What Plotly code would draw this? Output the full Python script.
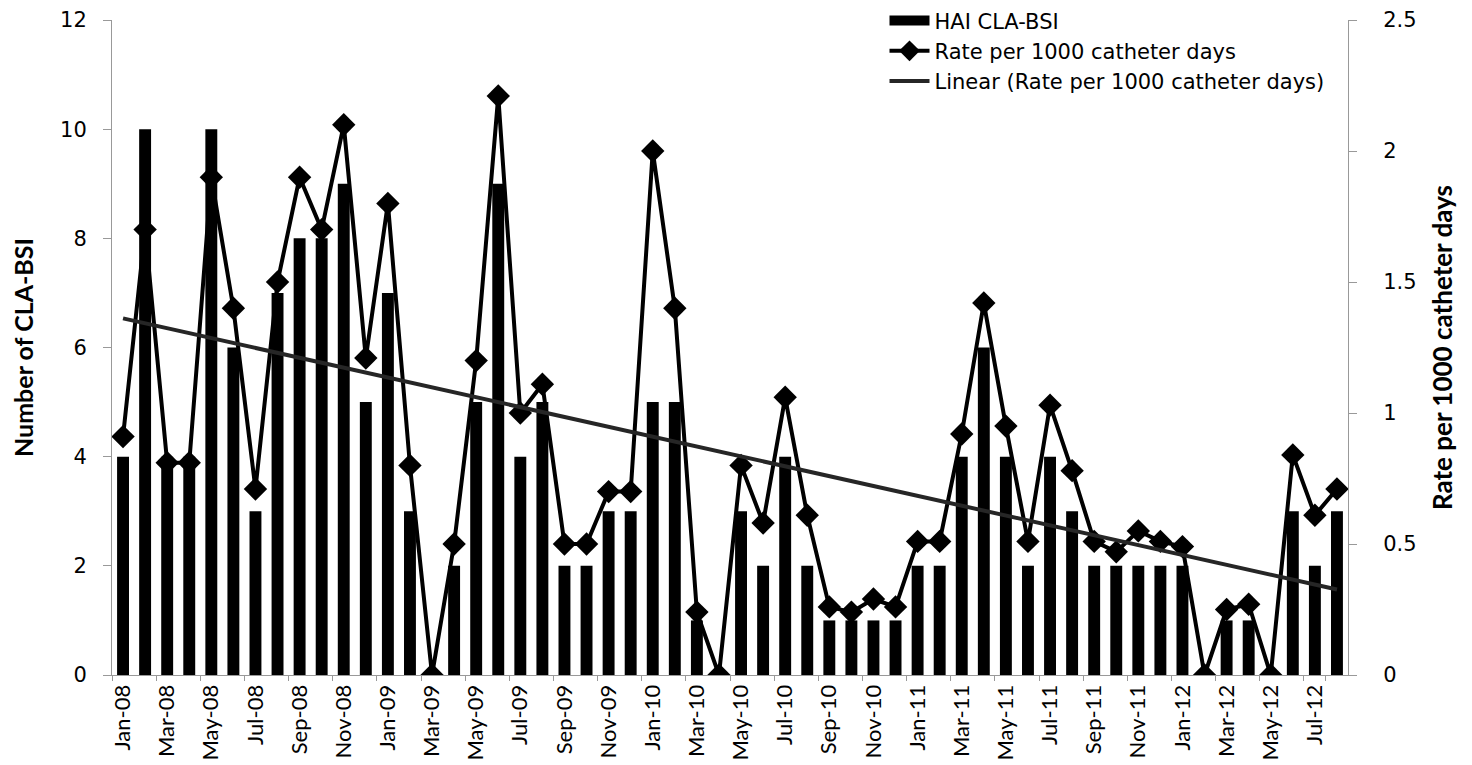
import numpy as np
import plotly.graph_objects as go

# Monthly data, Jan-08 .. Aug-12
months = [f"{m}-{y:02d}" for y in range(8, 13)
          for m in ["Jan", "Feb", "Mar", "Apr", "May", "Jun",
                    "Jul", "Aug", "Sep", "Oct", "Nov", "Dec"]][:56]

cla_bsi = [4, 10, 4, 4, 10, 6, 3, 7, 8, 8, 9, 5,
           7, 3, 0, 2, 5, 9, 4, 5, 2, 2, 3, 3,
           5, 5, 1, 0, 3, 2, 4, 2, 1, 1, 1, 1,
           2, 2, 4, 6, 4, 2, 4, 3, 2, 2, 2, 2,
           2, 0, 1, 1, 0, 3, 2, 3]

rate = [0.91, 1.70, 0.81, 0.81, 1.90, 1.40, 0.71, 1.50, 1.90, 1.70, 2.10, 1.21,
        1.80, 0.80, 0.00, 0.50, 1.20, 2.21, 1.00, 1.11, 0.50, 0.50, 0.70, 0.70,
        2.00, 1.40, 0.24, 0.00, 0.80, 0.58, 1.06, 0.61, 0.26, 0.24, 0.29, 0.26,
        0.51, 0.51, 0.92, 1.42, 0.95, 0.51, 1.03, 0.78, 0.51, 0.47, 0.55, 0.51,
        0.49, 0.00, 0.25, 0.27, 0.00, 0.84, 0.61, 0.71]

tick_labels = months[::2]

# Linear trend of the rate (Excel-style "Linear" trendline)
idx = np.arange(len(rate))
slope, icpt = np.polyfit(idx, rate, 1)
trend = slope * idx + icpt

WIDE = "'DejaVu Sans', Verdana, sans-serif"
NARROW = "Lato, 'Open Sans', sans-serif"

fig = go.Figure()

fig.add_trace(go.Bar(
    x=months, y=cla_bsi, name="HAI CLA-BSI",
    marker=dict(color="black", line=dict(width=0)),
    showlegend=False, yaxis="y",
))

# legend swatch for the bars: a wide black block like the Excel legend
fig.add_trace(go.Scatter(
    x=[None], y=[None], name="HAI CLA-BSI", mode="lines",
    line=dict(color="black", width=11),
))

fig.add_trace(go.Scatter(
    x=months, y=rate, name="Rate per 1000 catheter days",
    mode="lines+markers",
    line=dict(color="black", width=4),
    marker=dict(symbol="diamond", size=18, color="black"),
    yaxis="y2",
))

fig.add_trace(go.Scatter(
    x=months, y=trend, name="Linear (Rate per 1000 catheter days)",
    mode="lines",
    line=dict(color="#262626", width=4),
    yaxis="y2",
))

fig.update_layout(
    width=1472, height=765,
    margin=dict(l=104, r=132, t=12, b=98, autoexpand=False),
    paper_bgcolor="white", plot_bgcolor="white",
    font=dict(family=WIDE, size=20, color="black"),
    bargap=0.46,
    showlegend=True,
    legend=dict(
        x=0.625, xanchor="left",
        y=1.03, yanchor="top",
        bgcolor="rgba(0,0,0,0)", font=dict(family=WIDE, size=21),
        tracegroupgap=0, itemwidth=40,
    ),
    xaxis=dict(
        type="category", categoryorder="array", categoryarray=months,
        tickmode="array", tickvals=tick_labels, ticktext=tick_labels,
        tickangle=-90, tickfont=dict(family=NARROW, size=22),
        ticks="outside", ticklen=5, tickcolor="#999",
        tickson="boundaries", automargin=False,
        showline=True, linecolor="#999", linewidth=1,
        showgrid=False, range=[-0.5, len(months) - 0.5],
    ),
    yaxis=dict(
        range=[0, 12], dtick=2,
        title=dict(text="<b>Number of CLA-BSI</b>",
                   font=dict(family=NARROW, size=25), standoff=40),
        tickfont=dict(family=WIDE, size=21),
        ticks="outside", ticklen=8, tickcolor="#999", ticklabelstandoff=12,
        showline=True, linecolor="#999", linewidth=1, automargin=False,
        showgrid=False, zeroline=False,
    ),
    yaxis2=dict(
        range=[0, 2.5], dtick=0.5, overlaying="y", side="right",
        title=dict(text="<b>Rate per 1000 catheter days</b>",
                   font=dict(family=NARROW, size=26), standoff=18),
        tickfont=dict(family=WIDE, size=21),
        ticks="outside", ticklen=8, tickcolor="#999", ticklabelstandoff=22,
        showline=True, linecolor="#999", linewidth=1, automargin=False,
        showgrid=False, zeroline=False,
    ),
)

fig.write_html("out.html")
